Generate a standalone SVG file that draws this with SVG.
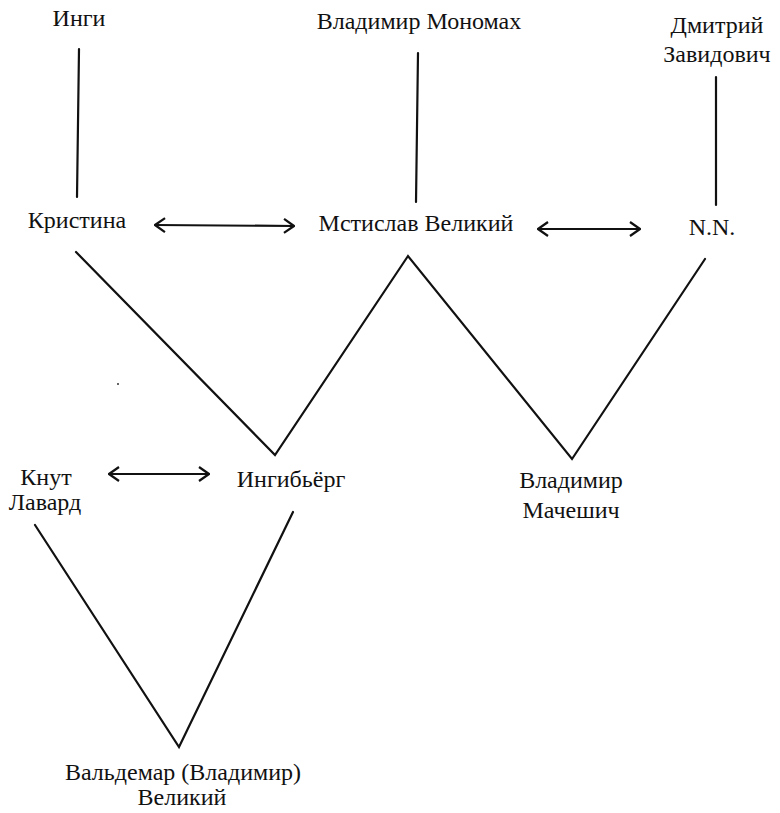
<svg xmlns="http://www.w3.org/2000/svg" width="780" height="813" viewBox="0 0 780 813">
<style>
text{font-family:'Liberation Serif','Times New Roman',Tinos,'DejaVu Serif','Noto Serif',serif;font-size:24px;fill:#111;text-anchor:middle}
.ln{stroke:#111;stroke-width:2.2;fill:none;stroke-linecap:round;stroke-linejoin:miter}
.ar{stroke:#111;stroke-width:2.2;fill:none;marker-start:url(#ah);marker-end:url(#ah)}
</style>
<defs>
<marker id="ah" viewBox="0 0 12 16" refX="11" refY="8" markerWidth="12" markerHeight="16" markerUnits="userSpaceOnUse" orient="auto-start-reverse">
<path d="M1,1 L11,8 L1,15" fill="none" stroke="#111" stroke-width="2.2"/>
</marker>
</defs>
<rect width="780" height="813" fill="#fff"/>
<g id="inge"><text x="79" y="26" font-family="Liberation Serif">Инги</text></g>
<g id="monomakh"><text x="419" y="29">Владимир Мономах</text></g>
<g id="dmitry"><text x="717" y="33">Дмитрий</text><text x="717" y="62">Завидович</text></g>
<g id="kristina"><text x="77" y="228">Кристина</text></g>
<g id="mstislav"><text x="416" y="231">Мстислав Великий</text></g>
<g id="nn"><text x="712" y="235">N.N.</text></g>
<g id="knut"><text x="46" y="485">Кнут</text><text x="45" y="510">Лавард</text></g>
<g id="ingibjorg"><text x="291" y="487">Ингибьёрг</text></g>
<g id="vladimir-m"><text x="571" y="488">Владимир</text><text x="571" y="518">Мачешич</text></g>
<g id="valdemar"><text x="183" y="780">Вальдемар (Владимир)</text><text x="182" y="805">Великий</text></g>
<g id="connectors">
<line class="ln" x1="79" y1="49" x2="77" y2="197"/>
<line class="ln" x1="418" y1="53" x2="416" y2="202"/>
<line class="ln" x1="716" y1="77" x2="716" y2="205"/>
<line class="ar" x1="155" y1="225" x2="294" y2="226"/>
<line class="ar" x1="538" y1="229" x2="640" y2="229"/>
<line class="ar" x1="109" y1="474" x2="209" y2="474"/>
<polyline class="ln" points="76,252 275,455 408,256 572,459 705,259"/>
<polyline class="ln" points="35,525 179,747 293,512"/>
</g>
<circle cx="118" cy="384" r="1" fill="#333"/>
</svg>
